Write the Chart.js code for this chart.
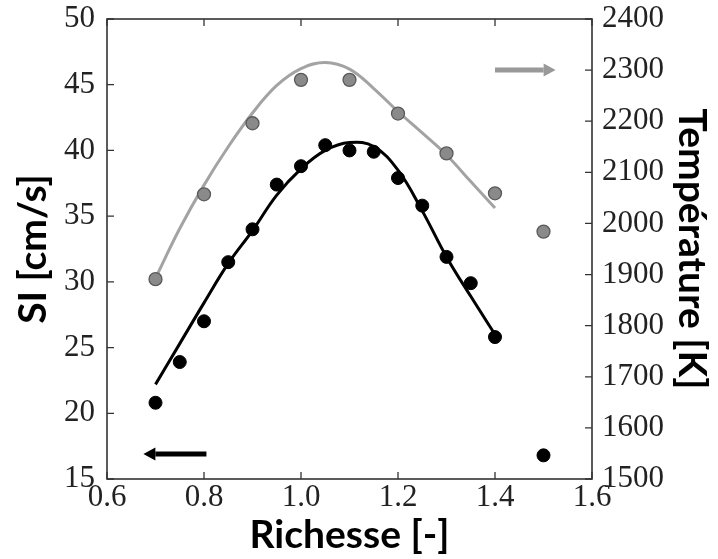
<!DOCTYPE html>
<html><head><meta charset="utf-8">
<script src="https://cdn.jsdelivr.net/npm/chart.js@4.4.0/dist/chart.umd.min.js"></script>
<style>html,body{margin:0;padding:0;background:#fff}#wrap{width:718px;height:559px}</style>
</head><body><div id="wrap"><canvas id="c" width="718" height="559"></canvas></div>
<script>
// ---- data ----
const richesseSI = [0.7, 0.75, 0.8, 0.85, 0.9, 0.95, 1.0, 1.05, 1.1, 1.15, 1.2, 1.25, 1.3, 1.35, 1.4, 1.5];
const siValues   = [20.8, 23.9, 27.0, 31.5, 34.0, 37.4, 38.8, 40.4, 40.0, 39.9, 37.9, 35.8, 31.9, 29.9, 25.8, 16.8];
const richesseT  = [0.7, 0.8, 0.9, 1.0, 1.1, 1.2, 1.3, 1.4, 1.5];
const tempValues = [1891, 2057, 2196, 2281, 2281, 2215, 2137, 2059, 1984];
const fitX       = [0.7, 0.75, 0.8, 0.85, 0.9, 0.95, 1.0, 1.05, 1.1, 1.15, 1.2, 1.25, 1.3, 1.35, 1.4];
const siFit      = [22.2, 25.3, 28.4, 31.4, 33.9, 36.6, 38.6, 40.0, 40.6, 40.3, 38.5, 35.4, 31.9, 28.9, 26.0];
const tempFit    = [1893, 1990, 2075, 2150, 2216, 2270, 2303, 2315, 2302, 2264, 2219, 2177, 2134, 2082, 2030];
const xTickLabels = ['0.6', '0.8', '1.0', '1.2', '1.4', '1.6'];
const siTicks     = [15, 20, 25, 30, 35, 40, 45, 50];
const tempTicks   = [1500, 1600, 1700, 1800, 1900, 2000, 2100, 2200, 2300, 2400];
// arrows: [xStart, xEnd, yValue] (data units)
const arrowSI   = [0.805, 0.675, 16.9];   // points to left axis
const arrowTemp = [1.40, 1.525, 2300];    // points to right axis

const pts = (xs, ys) => xs.map((x, i) => ({x: x, y: ys[i]}));
const serifFamily = "'Liberation Serif', serif";
const sansFamily = "Lato";

const framePlugin = {
  id: 'frame',
  afterDraw(chart) {
    const {ctx, chartArea: a, scales} = chart;
    ctx.save();
    ctx.strokeStyle = '#333';
    ctx.lineWidth = 1.6;
    ctx.strokeRect(a.left, a.top, a.right - a.left, a.bottom - a.top);
    ctx.lineWidth = 1.3;
    const tl = 7;
    ctx.beginPath();
    xTickLabels.forEach(t => {
      const px = scales.x.getPixelForValue(parseFloat(t));
      ctx.moveTo(px, a.bottom); ctx.lineTo(px, a.bottom - tl);
      ctx.moveTo(px, a.top); ctx.lineTo(px, a.top + tl);
    });
    siTicks.forEach(v => {
      const py = scales.y.getPixelForValue(v);
      ctx.moveTo(a.left, py); ctx.lineTo(a.left + tl, py);
    });
    tempTicks.forEach(v => {
      const py = scales.y2.getPixelForValue(v);
      ctx.moveTo(a.right, py); ctx.lineTo(a.right - tl, py);
    });
    ctx.stroke();
    const drawArrow = (arr, yScale, color) => {
      const x0 = scales.x.getPixelForValue(arr[0]);
      const x1 = scales.x.getPixelForValue(arr[1]);
      const y = yScale.getPixelForValue(arr[2]);
      const dir = Math.sign(x1 - x0);
      const head = 12;
      ctx.strokeStyle = color; ctx.fillStyle = color;
      ctx.lineWidth = 5; ctx.lineCap = 'butt';
      ctx.beginPath(); ctx.moveTo(x0, y); ctx.lineTo(x1 - dir * head, y); ctx.stroke();
      ctx.beginPath();
      ctx.moveTo(x1, y);
      ctx.lineTo(x1 - dir * head, y - 6.5);
      ctx.lineTo(x1 - dir * head, y + 6.5);
      ctx.closePath(); ctx.fill();
    };
    drawArrow(arrowSI, scales.y, '#000');
    drawArrow(arrowTemp, scales.y2, '#999');
    ctx.restore();
  }
};

const tickFont = { family: serifFamily, size: 31, weight: 'normal' };
const titleFont = { family: sansFamily, size: 39, weight: 'bold' };

new Chart(document.getElementById('c'), {
  type: 'scatter',
  data: {
    datasets: [
      { label: 'SI', data: pts(richesseSI, siValues), yAxisID: 'y', order: 0,
        backgroundColor: '#000', borderColor: '#000', pointRadius: 6.5, borderWidth: 1 },
      { label: 'T', data: pts(richesseT, tempValues), yAxisID: 'y2', order: 0,
        backgroundColor: '#8a8a8a', borderColor: '#5a5a5a', pointRadius: 6.5, borderWidth: 1.3 },
      { label: 'SI fit', data: pts(fitX, siFit), yAxisID: 'y', order: 1, showLine: true,
        borderColor: '#000', borderWidth: 3, pointRadius: 0, tension: 0.4 },
      { label: 'T fit', data: pts(fitX, tempFit), yAxisID: 'y2', order: 1, showLine: true,
        borderColor: '#a3a3a3', borderWidth: 3, pointRadius: 0, tension: 0.4 }
    ]
  },
  options: {
    responsive: false, animation: false, devicePixelRatio: 1,
    layout: { padding: { top: 19, left: 0, right: 0, bottom: 0 } },
    plugins: { legend: { display: false }, tooltip: { enabled: false } },
    scales: {
      x: {
        type: 'linear', min: 0.6, max: 1.6,
        afterBuildTicks: s => { s.ticks = xTickLabels.map(t => ({value: parseFloat(t)})); },
        afterFit: s => { s.height = 80; s.paddingLeft = 0; s.paddingRight = 0; },
        grid: { display: false, drawTicks: false },
        border: { display: false },
        ticks: { padding: 0, color: '#222', font: tickFont, maxRotation: 0, autoSkip: false,
                 callback: (v) => xTickLabels.find(t => Math.abs(parseFloat(t) - v) < 1e-6) },
        title: { display: true, text: 'Richesse [-]', color: '#000', font: titleFont,
                 padding: { top: 0, bottom: 0 } }
      },
      y: {
        position: 'left', min: 15, max: 50,
        afterBuildTicks: s => { s.ticks = siTicks.map(v => ({value: v})); },
        afterFit: s => { s.width = 107; s.paddingTop = 0; s.paddingBottom = 0; },
        grid: { display: false, drawTicks: false },
        border: { display: false },
        ticks: { padding: 12, color: '#222', font: tickFont, autoSkip: false,
                 callback: (v) => String(v) },
        title: { display: true, text: 'SI [cm/s]', color: '#000', font: titleFont,
                 padding: { top: 10, bottom: 0 } }
      },
      y2: {
        position: 'right', min: 1500, max: 2400,
        afterBuildTicks: s => { s.ticks = tempTicks.map(v => ({value: v})); },
        afterFit: s => { s.width = 126; s.paddingTop = 0; s.paddingBottom = 0; },
        grid: { display: false, drawTicks: false },
        border: { display: false },
        ticks: { padding: 10, color: '#222', font: tickFont, autoSkip: false,
                 callback: (v) => String(v) },
        title: { display: true, text: 'Température [K]', color: '#000', font: titleFont,
                 padding: { top: 3, bottom: 0 } }
      }
    }
  },
  plugins: [framePlugin]
});
</script>
</body></html>
